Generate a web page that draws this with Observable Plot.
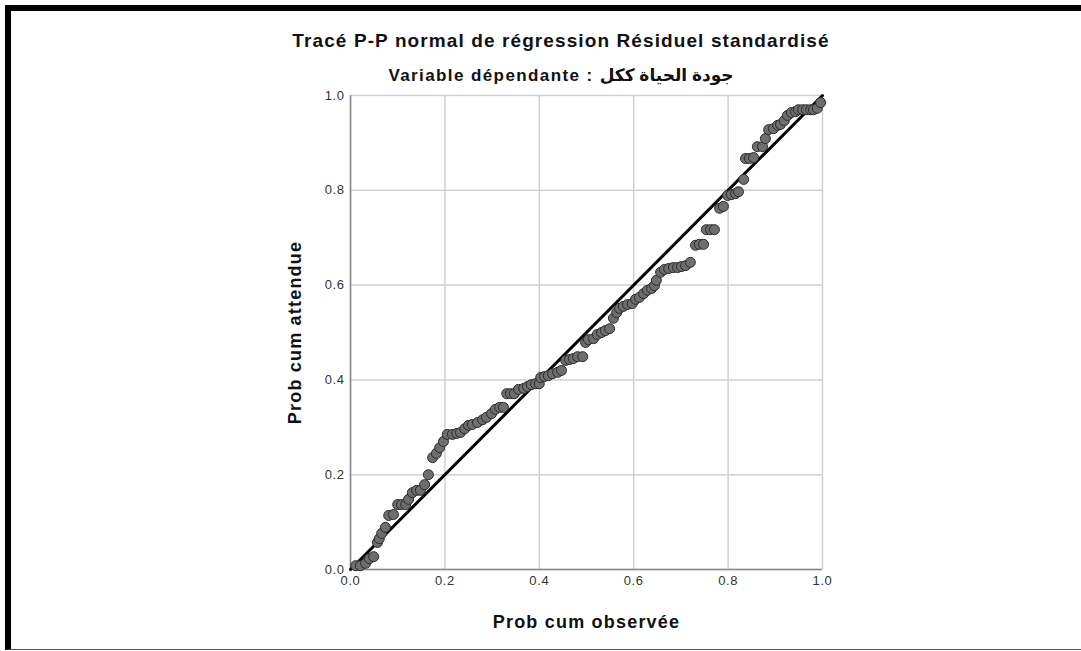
<!DOCTYPE html>
<html>
<head>
<meta charset="utf-8">
<script src="https://cdn.jsdelivr.net/npm/d3@7"></script>
<script src="https://cdn.jsdelivr.net/npm/@observablehq/plot@0.6"></script>
<style>
  html, body { margin: 0; padding: 0; background: #fff; width: 1081px; height: 651px; overflow: hidden; }
  body { font-family: Arial, "Liberation Sans", "DejaVu Sans", sans-serif; position: relative; }
  #frame { position: absolute; left: 5px; top: 5px; width: 1090px; height: 638px;
           border-top: 6px solid #000; border-left: 6px solid #000; border-bottom: 1px solid #555; }
  #title { position: absolute; left: 0; width: 1122px; top: 30px; text-align: center;
           font-size: 19px; letter-spacing: 1.1px; font-weight: bold; color: #111; }
  #subtitle { position: absolute; left: 0; width: 1122px; top: 65px; text-align: center;
           font-size: 17px; letter-spacing: 1.4px; font-weight: bold; color: #111; }
  #chart { position: absolute; left: 250px; top: 85px; }
</style>
</head>
<body>
<div id="frame"></div>
<div id="title">Tracé P-P normal de régression Résiduel standardisé</div>
<div id="subtitle">Variable dépendante : جودة الحياة ككل</div>
<div id="chart"></div>
<script>
// Observed cumulative probability
const observed = [
  0.011, 0.021, 0.032, 0.040, 0.049, 0.057, 0.061, 0.066, 0.074, 0.081,
  0.091, 0.100, 0.108, 0.117, 0.123, 0.131, 0.140, 0.148, 0.157, 0.165,
  0.174, 0.182, 0.189, 0.197, 0.205, 0.216, 0.225, 0.233, 0.242, 0.250,
  0.258, 0.269, 0.280, 0.288, 0.299, 0.307, 0.316, 0.324, 0.331, 0.339,
  0.347, 0.356, 0.367, 0.375, 0.383, 0.392, 0.400, 0.403, 0.411, 0.419,
  0.428, 0.439, 0.447, 0.456, 0.464, 0.472, 0.481, 0.492, 0.498, 0.504,
  0.515, 0.523, 0.532, 0.540, 0.549, 0.557, 0.564, 0.570, 0.578, 0.587,
  0.597, 0.604, 0.612, 0.621, 0.629, 0.638, 0.644, 0.648, 0.657, 0.665,
  0.674, 0.684, 0.693, 0.701, 0.710, 0.720, 0.731, 0.739, 0.748, 0.754,
  0.763, 0.771, 0.782, 0.790, 0.799, 0.807, 0.816, 0.822, 0.833, 0.837,
  0.845, 0.854, 0.862, 0.873, 0.879, 0.886, 0.896, 0.905, 0.911, 0.919,
  0.926, 0.934, 0.943, 0.949, 0.958, 0.966, 0.975, 0.981, 0.989, 0.996
];
// Expected cumulative probability
const expected = [
  0.008, 0.008, 0.013, 0.023, 0.027, 0.057, 0.065, 0.076, 0.089, 0.114,
  0.116, 0.137, 0.137, 0.137, 0.148, 0.162, 0.167, 0.167, 0.179, 0.200,
  0.236, 0.245, 0.257, 0.270, 0.285, 0.285, 0.287, 0.289, 0.297, 0.304,
  0.306, 0.310, 0.316, 0.321, 0.329, 0.338, 0.342, 0.342, 0.371, 0.371,
  0.371, 0.380, 0.382, 0.386, 0.390, 0.392, 0.392, 0.405, 0.407, 0.409,
  0.413, 0.416, 0.420, 0.441, 0.443, 0.445, 0.449, 0.449, 0.479, 0.485,
  0.487, 0.496, 0.500, 0.504, 0.508, 0.530, 0.542, 0.551, 0.555, 0.559,
  0.561, 0.570, 0.574, 0.582, 0.589, 0.593, 0.599, 0.610, 0.627, 0.633,
  0.635, 0.637, 0.637, 0.639, 0.641, 0.648, 0.684, 0.686, 0.686, 0.717,
  0.717, 0.717, 0.762, 0.766, 0.789, 0.791, 0.793, 0.797, 0.823, 0.867,
  0.867, 0.869, 0.892, 0.892, 0.909, 0.928, 0.930, 0.937, 0.939, 0.947,
  0.958, 0.964, 0.966, 0.970, 0.970, 0.970, 0.970, 0.970, 0.973, 0.985
];
const ticks = [0, 0.2, 0.4, 0.6, 0.8, 1.0];
const diagonal = [0, 1];

const points = observed.map((o, i) => ({observed: o, expected: expected[i]}));

const font = 'Arial, "Liberation Sans", "DejaVu Sans", sans-serif';

const chart = Plot.plot({
  width: 592,
  height: 545,
  marginLeft: 100,
  marginRight: 20,
  marginTop: 10,
  marginBottom: 61,
  style: {fontFamily: font, fontSize: "13px", color: "#222", background: "transparent", overflow: "visible"},
  x: {domain: [0, 1]},
  y: {domain: [0, 1]},
  marks: [
    Plot.gridX(ticks, {stroke: "#d0d0d0", strokeOpacity: 1, strokeWidth: 1.5}),
    Plot.gridY(ticks, {stroke: "#d0d0d0", strokeOpacity: 1, strokeWidth: 1.5}),
    Plot.ruleX([0], {stroke: "#888", strokeWidth: 1.5}),
    Plot.ruleY([0], {stroke: "#888", strokeWidth: 1.5}),
    Plot.axisX(ticks, {tickSize: 0, tickPadding: 6, tickFormat: d3.format(".1f"), fontSize: 13,
      label: "Prob cum observée", labelArrow: "none", labelAnchor: "center", labelOffset: 58}),
    Plot.axisY(ticks, {tickSize: 0, tickPadding: 6, tickFormat: d3.format(".1f"), fontSize: 13,
      label: "Prob cum attendue", labelArrow: "none", labelAnchor: "center", labelOffset: 62}),
    Plot.line(diagonal, {x: d => d, y: d => d, stroke: "#000", strokeWidth: 3}),
    Plot.dot(points, {x: "observed", y: "expected", r: 5, fill: "#6e6e6e", stroke: "#2a2a2a", strokeWidth: 1})
  ]
});
document.getElementById("chart").appendChild(chart);
// tick labels: regular weight
chart.querySelectorAll('g[aria-label="x-axis tick label"] text, g[aria-label="y-axis tick label"] text').forEach(t => {
  t.style.fontSize = "13px"; t.style.fontWeight = "normal"; t.style.fill = "#333"; t.style.letterSpacing = "0.6px";
});
// axis titles: bold and larger, no arrows
chart.querySelectorAll('g[aria-label="x-axis label"] text, g[aria-label="y-axis label"] text').forEach(t => {
  t.textContent = t.textContent.replace(/[\u2190-\u2193]/g, "").trim();
  t.style.fontSize = "18px"; t.style.fontWeight = "bold"; t.style.fill = "#111"; t.style.letterSpacing = "1.2px";
});
</script>
</body>
</html>
